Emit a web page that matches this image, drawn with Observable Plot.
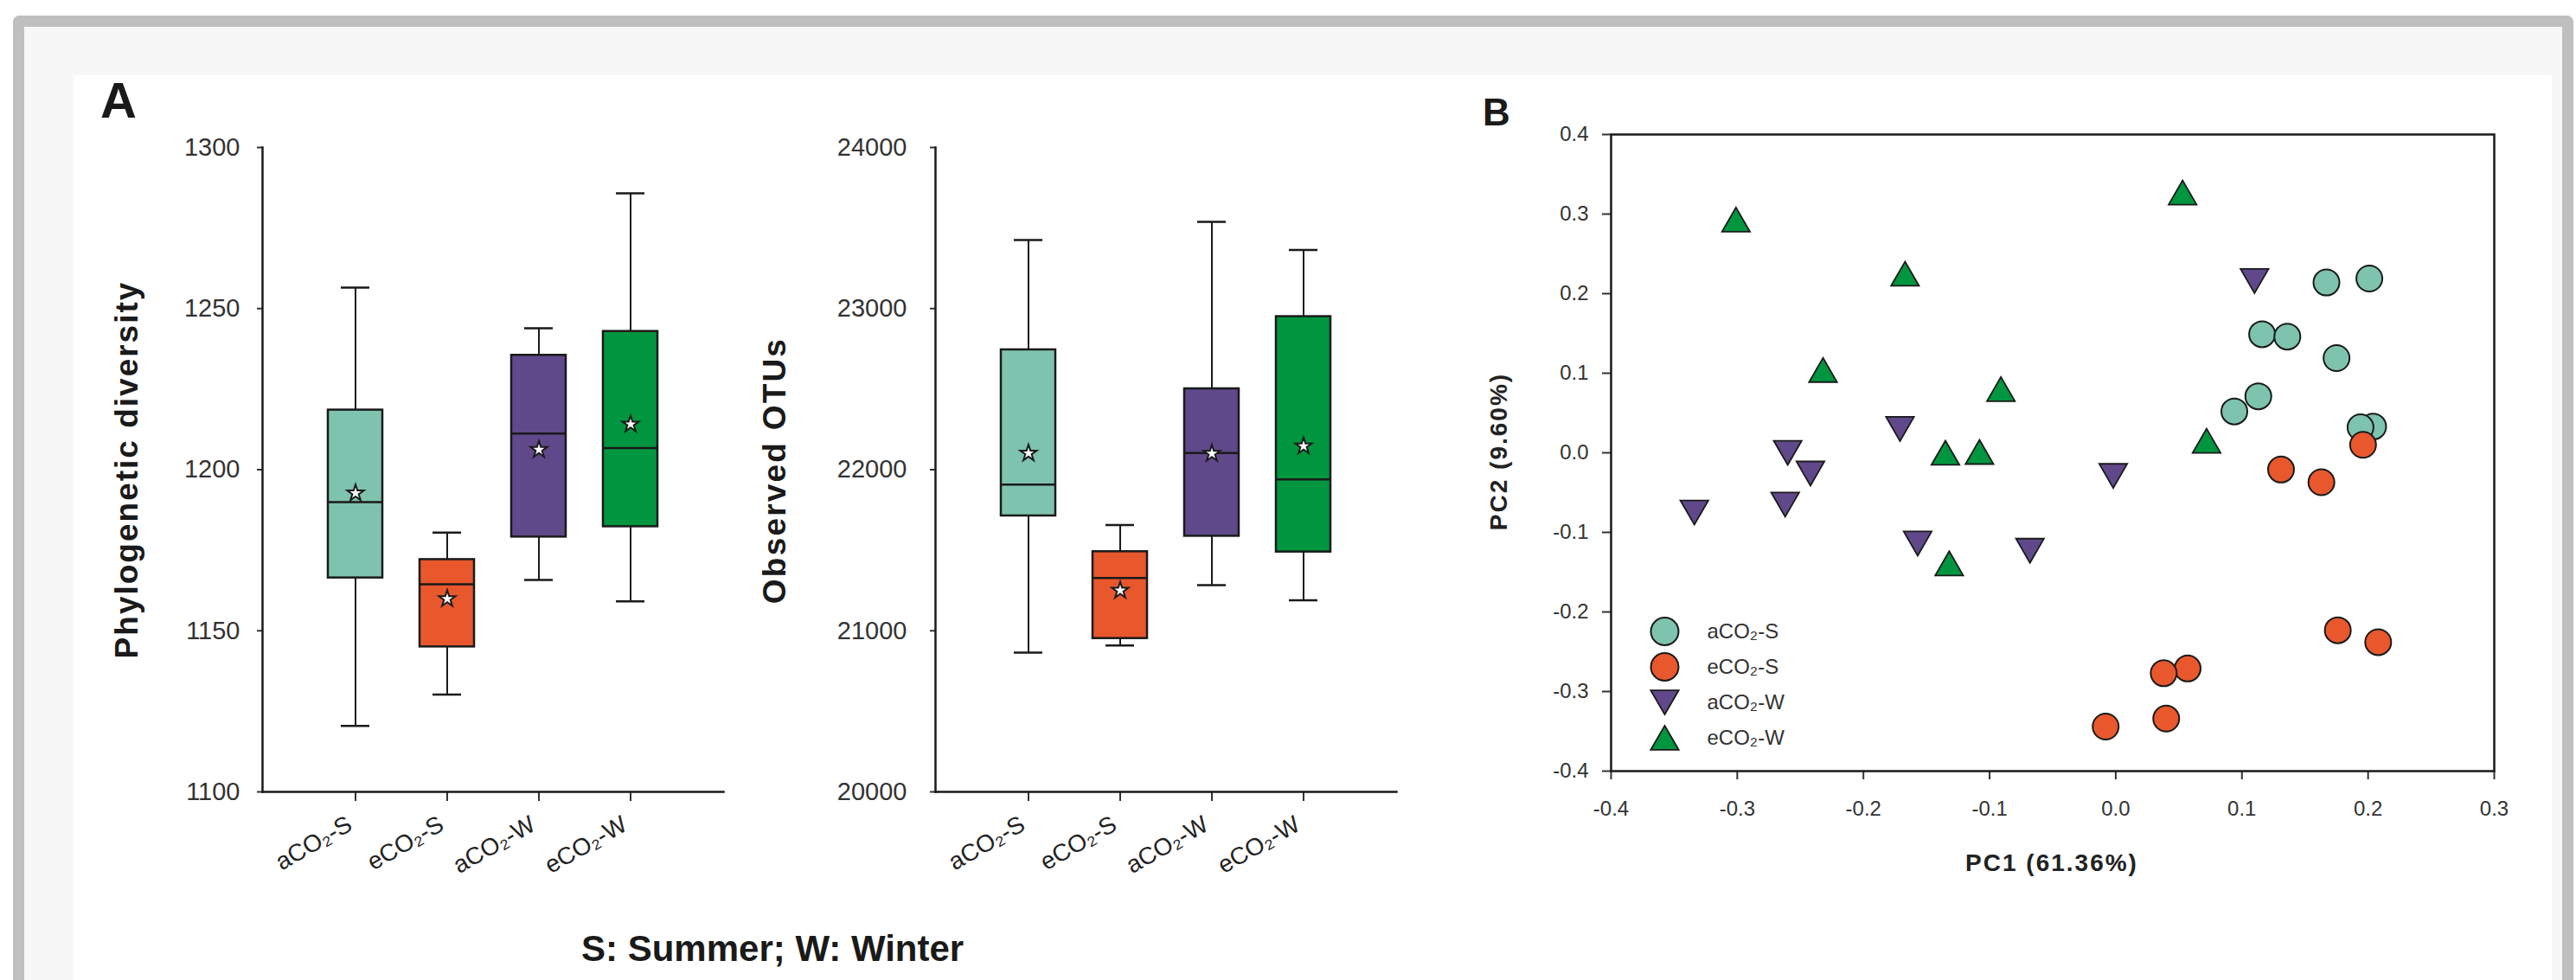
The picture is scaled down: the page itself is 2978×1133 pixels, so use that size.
<!DOCTYPE html>
<html><head><meta charset="utf-8">
<script src="https://cdn.jsdelivr.net/npm/d3@7"></script>
<script src="https://cdn.jsdelivr.net/npm/@observablehq/plot@0.6"></script>
<style>
html,body{margin:0;padding:0;background:#fff;}
#page{position:relative;width:2978px;height:1133px;overflow:hidden;background:#fff;font-family:"Liberation Sans",Arial,sans-serif;}
#outer{position:absolute;left:15px;top:18px;width:2960px;height:1140px;box-sizing:border-box;border:13px solid #bfbfbf;border-bottom:none;border-radius:8px 8px 0 0;background:#f7f7f7;}
#inner{position:absolute;left:85px;top:87px;width:2865px;height:1060px;background:#fff;}
.panel{position:absolute;top:0;}
.panel svg{overflow:visible;max-width:none !important;display:block;}
g[aria-label="category label"] text{letter-spacing:2px;}
</style></head>
<body><div id="page"><div id="outer"></div><div id="inner"></div></div>
<script>
// ---------- categories & colours ----------
const groups = ["aCO₂-S", "eCO₂-S", "aCO₂-W", "eCO₂-W"];
const groupColors = ["#7dc3ae", "#e8582c", "#60498b", "#00963f"];

// ---------- Phylogenetic diversity (box summaries) ----------
const pdMin    = [1120.5, 1130.2, 1165.8, 1159.1];
const pdQ1     = [1166.4, 1145.0, 1179.1, 1182.3];
const pdMedian = [1189.9, 1164.4, 1211.2, 1206.7];
const pdQ3     = [1218.5, 1172.1, 1235.5, 1242.9];
const pdMax    = [1256.5, 1180.5, 1243.9, 1285.8];
const pdMean   = [1192.7, 1159.9, 1206.2, 1214.1];
const pdTicks  = [1100, 1150, 1200, 1250, 1300];

// ---------- Observed OTUs (box summaries) ----------
const otuMin    = [20865, 20909, 21283, 21189];
const otuQ1     = [21713, 20952, 21587, 21489];
const otuMedian = [21908, 21328, 22104, 21940];
const otuQ3     = [22744, 21491, 22502, 22950];
const otuMax    = [23425, 21657, 23538, 23364];
const otuMean   = [22102, 21250, 22100, 22146];
const otuTicks  = [20000, 21000, 22000, 23000, 24000];

// ---------- PCoA scores ----------
const aS_PC1 = [0.116, 0.136, 0.167, 0.201, 0.175, 0.113, 0.094, 0.204, 0.194];
const aS_PC2 = [0.149, 0.146, 0.214, 0.219, 0.119, 0.071, 0.052, 0.033, 0.032];
const eS_PC1 = [0.196, 0.131, 0.163, 0.176, 0.208, 0.057, 0.038, 0.040, -0.008];
const eS_PC2 = [0.010, -0.021, -0.037, -0.223, -0.238, -0.271, -0.277, -0.334, -0.344];
const aW_PC1 = [0.110, -0.171, -0.260, -0.242, -0.262, -0.334, -0.157, -0.068, -0.002];
const aW_PC2 = [0.216, 0.030, 0.000, -0.026, -0.065, -0.075, -0.114, -0.123, -0.029];
const eW_PC1 = [-0.301, 0.053, -0.167, -0.232, -0.091, -0.135, -0.108, 0.072, -0.132];
const eW_PC2 = [0.293, 0.327, 0.225, 0.104, 0.080, 0.000, 0.001, 0.015, -0.139];
const pcTicksX = [-0.4, -0.3, -0.2, -0.1, 0.0, 0.1, 0.2, 0.3];
const pcTicksY = [-0.4, -0.3, -0.2, -0.1, 0.0, 0.1, 0.2, 0.3, 0.4];

// ---------- helpers ----------
const INK = "#1a1a1a";
const FONT = "Liberation Sans, Arial, sans-serif";
const boxTable = (mn, q1, md, q3, mx, mean) =>
  groups.map((g, i) => ({group: g, min: mn[i], q1: q1[i], median: md[i], q3: q3[i], max: mx[i], mean: mean[i]}));
const pts = (xs, ys) => xs.map((x, i) => ({pc1: x, pc2: ys[i]}));
const triangleDown = {
  draw(context, size) {
    const y = -Math.sqrt(size / (Math.sqrt(3) * 3));
    context.moveTo(0, -y * 2);
    context.lineTo(-Math.sqrt(3) * y, y);
    context.lineTo(Math.sqrt(3) * y, y);
    context.closePath();
  }
};
const page = document.getElementById("page");
function place(node, left, top) {
  const div = document.createElement("div");
  div.className = "panel";
  div.style.left = left + "px";
  div.style.top = top + "px";
  div.appendChild(node);
  page.appendChild(div);
}

function boxPlot(table, ticks, width, marginLeft, marginRight, tickPadding) {
  return Plot.plot({
    width, height: 1133, marginLeft, marginRight, marginTop: 170, marginBottom: 218,
    style: {background: "transparent", overflow: "visible", fontFamily: FONT, color: "#333"},
    x: {type: "band", domain: groups, paddingInner: 0.41, paddingOuter: 0.705},
    y: {domain: [ticks[0], ticks[ticks.length - 1]]},
    color: {domain: groups, range: groupColors},
    marks: [
      Plot.axisY({ticks, tickSize: 6, tickPadding, fontSize: 29, strokeWidth: 2, label: null, tickFormat: d => String(d)}),
      Plot.axisX({tickSize: 11, tickFormat: () => "", strokeWidth: 2, label: null}),
      Plot.ruleX(table, {x: "group", y1: "min", y2: "max", stroke: INK, strokeWidth: 2}),
      Plot.barY(table, {x: "group", y1: "q1", y2: "q3", fill: "group", stroke: INK, strokeWidth: 2.5}),
      Plot.tickY(table, {x: "group", y: "median", stroke: INK, strokeWidth: 2.5}),
      Plot.tickY(table, {x: "group", y: "min", stroke: INK, strokeWidth: 2.5, inset: 15}),
      Plot.tickY(table, {x: "group", y: "max", stroke: INK, strokeWidth: 2.5, inset: 15}),
      Plot.dot(table, {x: "group", y: "mean", symbol: "star", r: 6, fill: "white", stroke: INK, strokeWidth: 2}),
      Plot.frame({anchor: "left", stroke: INK, strokeWidth: 2.5}),
      Plot.frame({anchor: "bottom", stroke: INK, strokeWidth: 2.5}),
      Plot.text(groups, {x: d => d, text: d => d, frameAnchor: "bottom", rotate: -30, textAnchor: "end",
        lineAnchor: "bottom", dx: -2, dy: 43, fontSize: 28, fill: "#222", ariaLabel: "category label"})
    ]
  });
}

place(boxPlot(boxTable(pdMin, pdQ1, pdMedian, pdQ3, pdMax, pdMean), pdTicks, 880, 303, 44, 20), 0, 0);
place(boxPlot(boxTable(otuMin, otuQ1, otuMedian, otuQ3, otuMax, otuMean), otuTicks, 900, 221, 146, 27), 860, 0);

// ---------- PCoA scatter ----------
const scatter = Plot.plot({
  width: 1300, height: 1133, marginLeft: 222, marginRight: 57, marginTop: 155, marginBottom: 242,
  style: {background: "transparent", overflow: "visible", fontFamily: FONT, color: "#333"},
  x: {domain: [pcTicksX[0], pcTicksX[pcTicksX.length - 1]]},
  y: {domain: [pcTicksY[0], pcTicksY[pcTicksY.length - 1]]},
  marks: [
    Plot.axisY({ticks: pcTicksY, tickSize: 10, tickPadding: 16, fontSize: 24, strokeWidth: 2, label: null, tickFormat: d => d.toFixed(1)}),
    Plot.axisX({ticks: pcTicksX, tickSize: 10, tickPadding: 24, fontSize: 24, strokeWidth: 2, label: null, tickFormat: d => d.toFixed(1)}),
    Plot.frame({stroke: INK, strokeWidth: 2.5}),
    Plot.dot(pts(aS_PC1, aS_PC2), {x: "pc1", y: "pc2", r: 15, fill: groupColors[0], stroke: INK, strokeWidth: 2}),
    Plot.dot(pts(eS_PC1, eS_PC2), {x: "pc1", y: "pc2", r: 15, fill: groupColors[1], stroke: INK, strokeWidth: 2}),
    Plot.dot(pts(aW_PC1, aW_PC2), {x: "pc1", y: "pc2", r: 12, symbol: triangleDown, dy: -4.6, fill: groupColors[2], stroke: INK, strokeWidth: 1.8}),
    Plot.dot(pts(eW_PC1, eW_PC2), {x: "pc1", y: "pc2", r: 12, symbol: "triangle", dy: 4.6, fill: groupColors[3], stroke: INK, strokeWidth: 1.8})
  ]
});
place(scatter, 1640, 0);

// ---------- legend ----------
const legend = Plot.plot({
  width: 220, height: 164, margin: 0,
  style: {background: "transparent", overflow: "visible", fontFamily: FONT, color: "#333"},
  y: {type: "band", domain: groups, padding: 0, axis: null},
  marks: [
    Plot.dot([groups[0]], {y: d => d, frameAnchor: "left", dx: 34, r: 16, fill: groupColors[0], stroke: INK, strokeWidth: 2}),
    Plot.dot([groups[1]], {y: d => d, frameAnchor: "left", dx: 34, r: 16, fill: groupColors[1], stroke: INK, strokeWidth: 2}),
    Plot.dot([groups[2]], {y: d => d, frameAnchor: "left", dx: 34, dy: -4.6, r: 12, symbol: triangleDown, fill: groupColors[2], stroke: INK, strokeWidth: 1.8}),
    Plot.dot([groups[3]], {y: d => d, frameAnchor: "left", dx: 34, dy: 4.6, r: 12, symbol: "triangle", fill: groupColors[3], stroke: INK, strokeWidth: 1.8}),
    Plot.text(groups, {y: d => d, text: d => d, frameAnchor: "left", dx: 83, textAnchor: "start", fontSize: 24, fill: "#333"})
  ]
});
place(legend, 1890, 709);

// ---------- text labels ----------
const svg = d3.select(page).append("svg")
  .attr("width", 2978).attr("height", 1133)
  .style("position", "absolute").style("left", "0px").style("top", "0px")
  .style("font-family", FONT);
function label(t, x, y, size, {weight = "bold", rotate = 0, anchor = "start", spacing = 0, fill = "#1a1a1a"} = {}) {
  svg.append("text")
    .attr("transform", `translate(${x},${y}) rotate(${rotate})`)
    .attr("text-anchor", anchor)
    .attr("font-size", size)
    .attr("font-weight", weight)
    .attr("letter-spacing", spacing)
    .attr("fill", fill)
    .text(t);
}
label("A", 116, 136, 58);
label("B", 1714, 145, 44);
label("Phylogenetic diversity", 159, 543, 37, {rotate: -90, anchor: "middle", spacing: 2});
label("Observed OTUs", 908, 544, 37, {rotate: -90, anchor: "middle", spacing: 2.2});
label("PC2 (9.60%)", 1742, 522, 28, {rotate: -90, anchor: "middle", spacing: 2, fill: "#222"});
label("PC1 (61.36%)", 2372, 1007, 28, {anchor: "middle", spacing: 2, fill: "#222"});
label("S: Summer; W: Winter", 672, 1111, 42);
</script></body></html>
